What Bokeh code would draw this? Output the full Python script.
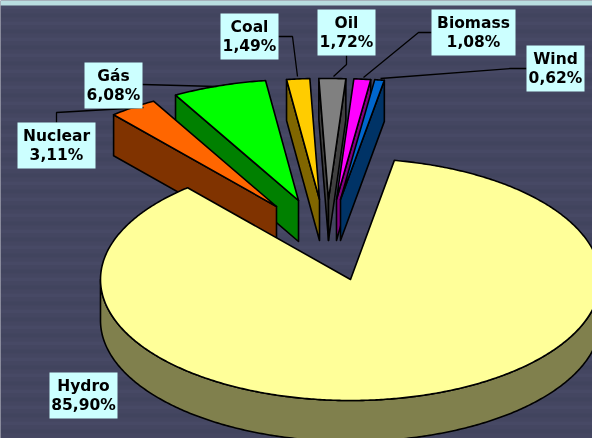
import numpy as np
from bokeh.plotting import figure
from bokeh.models import Range1d
from bokeh.embed import file_html
from bokeh.resources import INLINE
from bokeh.core.properties import value

# --- data -------------------------------------------------------------
sources = ["Hydro", "Nuclear", "Gás", "Coal", "Oil", "Biomass", "Wind"]
shares = [85.90, 3.11, 6.08, 1.49, 1.72, 1.08, 0.62]

# --- style ------------------------------------------------------------
top_colors = ["#FFFF99", "#FF6600", "#00FF00", "#FFCC00", "#808080", "#FF00FF", "#0066CC"]
side_colors = ["#80804D", "#803300", "#008000", "#806600", "#404040", "#800080", "#003366"]

# --- layout (pixel space of the picture) ------------------------------
W, H = 592, 438
RX, RY, DEPTH = 250, 121, 41
FIRST_ANGLE = 10.1  # degrees clockwise from "up"
apex = {"Hydro": (350, 279), "Nuclear": (276, 206), "Gás": (298, 200), "Coal": (319, 199),
        "Oil": (328, 199), "Biomass": (336, 199), "Wind": (340, 199)}
boxes = {"Hydro": (49, 117, 372, 418), "Nuclear": (17, 95, 122, 168), "Gás": (84, 142, 62, 108),
         "Coal": (220, 278, 13, 59), "Oil": (317, 375, 9, 55), "Biomass": (431, 515, 9, 55),
         "Wind": (526, 584, 45, 91)}
leaders = {"Nuclear": ([56, 56, 143], [122, 112, 107]), "Gás": ([142, 216], [84, 86]),
           "Coal": ([278, 292, 297], [36, 36, 76]), "Oil": ([346, 346, 333], [55, 64, 76]),
           "Biomass": ([431, 418, 363], [32, 32, 77]), "Wind": ([526, 510, 380], [68, 68, 78])}
draw_order = ["Gás", "Nuclear", "Coal", "Oil", "Biomass", "Wind", "Hydro"]

p = figure(width=W, height=H, x_range=Range1d(0, W), y_range=Range1d(H, 0),
           toolbar_location=None, output_backend="svg", min_border=0,
           background_fill_color="#454660", border_fill_color="#454660",
           outline_line_color=None, styles={"position": "fixed", "left": "0", "top": "0"})
p.axis.visible = False
p.grid.visible = False

# backdrop: faint horizontal banding and the pale strip along the top
edges = np.arange(5, H + 9, 4)
band_cols = ["#474965", "#444661", "#41445E", "#444661"]
p.quad(left=0, right=W, top=edges[:-1], bottom=edges[1:],
       fill_color=[band_cols[i % 4] for i in range(len(edges) - 1)], line_color=None)
p.quad(left=0, right=W, top=0, bottom=5, fill_color="#B9DDE0", line_color=None)

# slice angles come from the shares
total = sum(shares)
angles = {}
a = FIRST_ANGLE
for s, v in zip(sources, shares):
    angles[s] = (a, a + v / total * 360)
    a += v / total * 360


def rim(name, t):
    cx, cy = apex[name]
    r = np.radians(t)
    return cx + RX * np.sin(r), cy - RY * np.cos(r)


for name in draw_order:
    i = sources.index(name)
    top, side = top_colors[i], side_colors[i]
    cx, cy = apex[name]
    t0, t1 = angles[name]
    ts = np.linspace(t0, t1, max(8, int((t1 - t0) * 2)))
    rx, ry = rim(name, ts)
    style = dict(line_color="black", line_width=1.6, line_join="round")
    # cut faces: only those that turn towards the viewer
    if np.sin(np.radians(t0)) < 0:
        p.patch([rx[0], cx, cx, rx[0]], [ry[0], cy, cy + DEPTH, ry[0] + DEPTH],
                fill_color=side, **style)
    if np.sin(np.radians(t1)) > 0:
        p.patch([rx[-1], cx, cx, rx[-1]], [ry[-1], cy, cy + DEPTH, ry[-1] + DEPTH],
                fill_color=side, **style)
    # visible part of the outer wall (front half of the ellipse)
    lo, hi = max(t0, 90), min(t1, 270)
    if hi > lo:
        tw = np.linspace(lo, hi, 300)
        wx, wy = rim(name, tw)
        p.patch(np.r_[wx, wx[::-1]], np.r_[wy, wy[::-1] + DEPTH], fill_color=side, **style)
    # top face
    p.patch(np.r_[cx, rx], np.r_[cy, ry], fill_color=top, **style)

# leader lines, label boxes, label texts
for name, (lx, ly) in leaders.items():
    p.line(lx, ly, line_color="black", line_width=1.3)

for name, v in zip(sources, shares):
    l, r, t, b = boxes[name]
    p.quad(left=l, right=r, top=t, bottom=b, fill_color="#CCFFFF", line_color=None)
    for txt, yy in ((name, t + 13), (f"{v:.2f}%".replace(".", ","), t + 32)):
        p.text([(l + r) / 2], [yy], text=[txt], text_align="center", text_baseline="middle",
               text_font=value("DejaVu Sans"), text_font_style="bold", text_font_size="15.5px",
               text_color="black")

open("out.html", "w").write(file_html(p, INLINE))
